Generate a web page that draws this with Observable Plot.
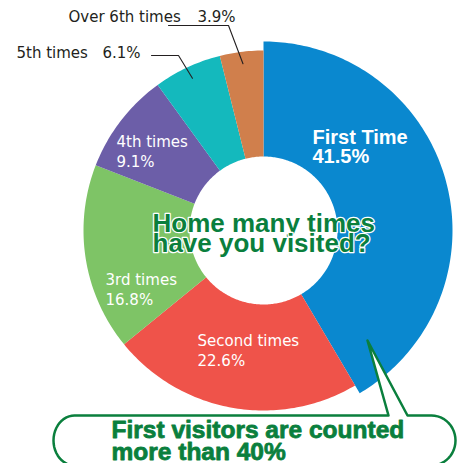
<!DOCTYPE html>
<html><head><meta charset="utf-8">
<script src="https://cdn.jsdelivr.net/npm/d3@7"></script>
<script src="https://cdn.jsdelivr.net/npm/@observablehq/plot@0.6"></script>
<style>html,body{margin:0;padding:0;background:#fff;overflow:hidden} svg{display:block}</style>
</head><body><div id="chart"></div>
<script>
// ---- data ----
const categories = ["First Time", "Second times", "3rd times", "4th times", "5th times", "Over 6th times"];
const shares = [41.5, 22.6, 16.8, 9.1, 6.1, 3.9];
const titleLines = ["Home many times", "have you visited?"];
const calloutLines = ["First visitors are counted", "more than 40%"];

// ---- styles / layout ----
const sliceColors = ["#0a88cf", "#ef534a", "#7ec466", "#6c5ea8", "#14b9bd", "#d07f4c"];
const green = "#0a7f3d";
const ink = "#231f20";
const W = 462, H = 463;
const cx = 263, cy = 230, rIn = 74, rOut = 180, rOutFirst = 189;
// inside label anchors (left x, cap-top y) for slices 0..3
const insidePos = [[312, 130], [197, 332], [105, 271], [116, 133]];
// outside labels: [name x, value x, cap-top y, elbow-start x, elbow x, elbow y]
const outsidePos = {4: [16, 102, 47, 151, 178, 55], 5: [68, 197, 11, 168, 228, 25]};
const leaderR = 168;

const fmt = v => v.toFixed(1) + "%";
const arcs = d3.pie().sort(null).value(d => d)(shares);
const pt = (r, a) => ({x: cx + r * Math.sin(a), y: cy - r * Math.cos(a)});

// slice outlines derived from the pie angles
const slicePts = [];
arcs.forEach((p, i) => {
  const ro = i === 0 ? rOutFirst : rOut;
  const n = Math.max(8, Math.ceil((p.endAngle - p.startAngle) * 60));
  for (let k = 0; k <= n; k++) slicePts.push({cat: categories[i], ...pt(ro, p.startAngle + (p.endAngle - p.startAngle) * k / n)});
  for (let k = n; k >= 0; k--) slicePts.push({cat: categories[i], ...pt(rIn, p.startAngle + (p.endAngle - p.startAngle) * k / n)});
});

const insideLabels = [0, 1, 2, 3].map(i => ({x: insidePos[i][0], y: insidePos[i][1], text: categories[i] + "\n" + fmt(shares[i]), i}));
const outsideNames = [4, 5].map(i => ({x: outsidePos[i][0], y: outsidePos[i][2], text: categories[i]}));
const outsideValues = [4, 5].map(i => ({x: outsidePos[i][1], y: outsidePos[i][2], text: fmt(shares[i])}));
const leaderPts = [];
[4, 5].forEach(i => {
  const o = outsidePos[i];
  const mid = (arcs[i].startAngle + arcs[i].endAngle) / 2;
  leaderPts.push({k: i, x: o[3], y: o[5]}, {k: i, x: o[4], y: o[5]}, {k: i, ...pt(leaderR, mid)});
});

// callout bubble outline
const box = {l: 53, r: 455, t: 415, b: 465, rxL: 21, rxR: 24, tipX: 367, tipY: 340, legL: 388, legR: 407};
const bubble = [];
const ry = (box.b - box.t) / 2, my = (box.t + box.b) / 2;
bubble.push({x: box.l + box.rxL, y: box.t}, {x: box.legL, y: box.t}, {x: box.tipX, y: box.tipY}, {x: box.legR, y: box.t});
for (let k = 0; k <= 24; k++) { const a = -Math.PI / 2 + Math.PI * k / 24; bubble.push({x: box.r - box.rxR + box.rxR * Math.cos(a), y: my + ry * Math.sin(a)}); }
for (let k = 0; k <= 24; k++) { const a = Math.PI / 2 + Math.PI * k / 24; bubble.push({x: box.l + box.rxL + box.rxL * Math.cos(a), y: my + ry * Math.sin(a)}); }

const chart = Plot.plot({
  width: W, height: H, margin: 0,
  x: {domain: [0, W], range: [0, W], axis: null},
  y: {domain: [0, H], range: [0, H], axis: null},
  color: {domain: categories, range: sliceColors},
  style: {fontFamily: "DejaVu Sans", background: "#fff"},
  marks: [
    Plot.line(slicePts, {x: "x", y: "y", z: "cat", fill: "cat", stroke: null, curve: "linear"}),
    Plot.line(leaderPts, {x: "x", y: "y", z: "k", stroke: ink, strokeWidth: 1.1, curve: "linear"}),
    Plot.text(insideLabels.filter(d => d.i === 0), {x: "x", y: "y", text: "text", textAnchor: "start", lineAnchor: "top", fill: "white", fontSize: 20, fontWeight: "bold", fontFamily: "Liberation Sans", lineHeight: 0.95}),
    Plot.text(insideLabels.filter(d => d.i !== 0), {x: "x", y: "y", text: "text", textAnchor: "start", lineAnchor: "top", fill: "white", fontSize: 15, fontFamily: "DejaVu Sans", lineHeight: 1.3}),
    Plot.text(outsideNames, {x: "x", y: "y", text: "text", textAnchor: "start", lineAnchor: "top", fill: ink, fontSize: 15, fontFamily: "DejaVu Sans"}),
    Plot.text(outsideValues, {x: "x", y: "y", text: "text", textAnchor: "start", lineAnchor: "top", fill: ink, fontSize: 15, fontFamily: "DejaVu Sans"}),
    Plot.text([titleLines.join("\n")], {x: () => 152, y: () => 217, text: d => d, textAnchor: "start", lineAnchor: "top", fill: green, stroke: "white", strokeWidth: 2.5, fontSize: 26, fontWeight: "bold", fontFamily: "Liberation Sans", lineHeight: 0.77}),
    Plot.line(bubble, {x: "x", y: "y", fill: "white", stroke: green, strokeWidth: 2.5, curve: "linear"}),
    Plot.text([calloutLines.join("\n")], {x: () => 111, y: () => 423, text: d => d, textAnchor: "start", lineAnchor: "top", fill: green, stroke: green, strokeWidth: 0.8, fontSize: 24.5, fontWeight: "bold", fontFamily: "Liberation Sans", lineHeight: 0.86})
  ]
});
document.getElementById("chart").append(chart);
</script>
</body></html>
